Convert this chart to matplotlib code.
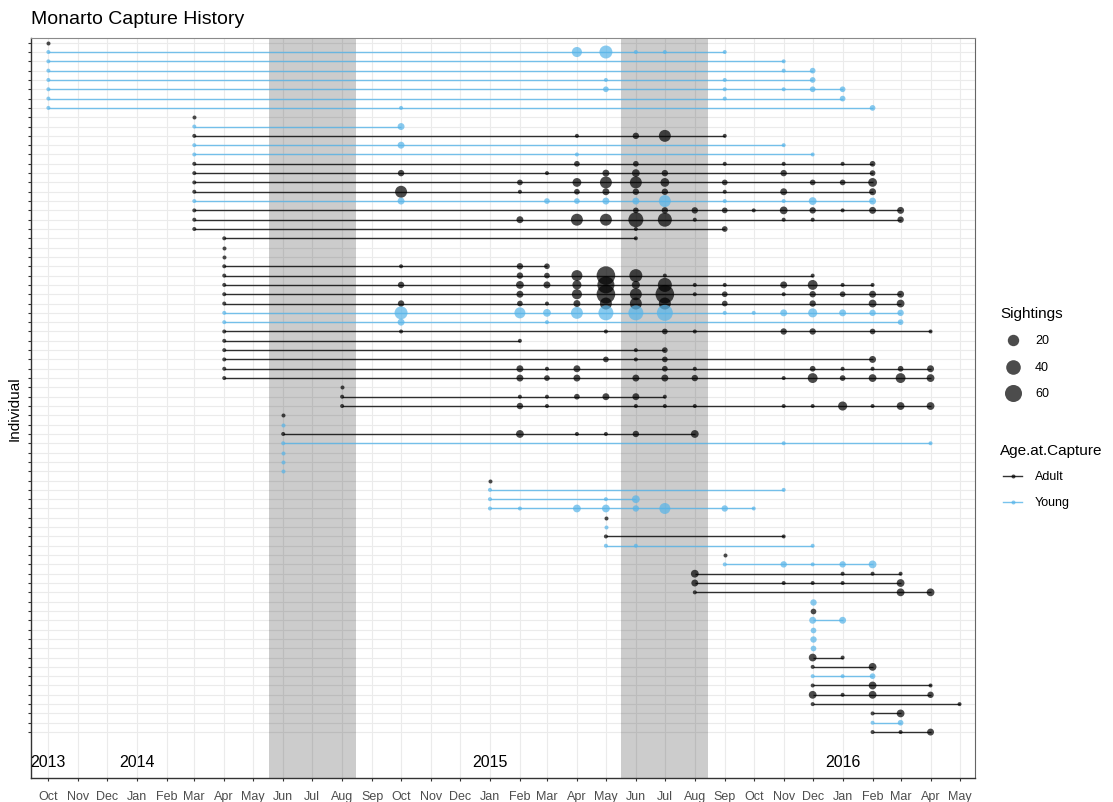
import datetime as dt
import numpy as np
import matplotlib
matplotlib.use("Agg")
import matplotlib.pyplot as plt

plt.rcParams['font.family'] = ['Liberation Sans', 'DejaVu Sans']

# ---- data: one entry per individual, top row first ----
age_at_capture = [
    "Adult", "Young", "Young", "Young", "Young",      # 1-5
    "Young", "Young", "Young", "Adult", "Young",      # 6-10
    "Adult", "Young", "Young", "Adult", "Adult",      # 11-15
    "Adult", "Adult", "Young", "Adult", "Adult",      # 16-20
    "Adult", "Adult", "Adult", "Adult", "Adult",      # 21-25
    "Adult", "Adult", "Adult", "Adult", "Young",      # 26-30
    "Young", "Adult", "Adult", "Adult", "Adult",      # 31-35
    "Adult", "Adult", "Adult", "Adult", "Adult",      # 36-40
    "Adult", "Young", "Adult", "Young", "Young",      # 41-45
    "Young", "Young", "Adult", "Young", "Young",      # 46-50
    "Young", "Adult", "Young", "Adult", "Young",      # 51-55
    "Adult", "Young", "Adult", "Adult", "Adult",      # 56-60
    "Young", "Adult", "Young", "Young", "Young",      # 61-65
    "Young", "Adult", "Adult", "Young", "Adult",      # 66-70
    "Adult", "Adult", "Adult", "Young", "Adult",      # 71-75
]

# month -> number of sightings
history = [
    {"2013-10": 1},
    {"2013-10": 1, "2015-04": 14, "2015-05": 29, "2015-06": 1, "2015-07": 1, "2015-09": 1},
    {"2013-10": 1, "2015-11": 1},
    {"2013-10": 1, "2015-11": 1, "2015-12": 2},
    {"2013-10": 1, "2015-05": 1, "2015-09": 1, "2015-12": 2},
    {"2013-10": 1, "2015-05": 2, "2015-09": 1, "2015-11": 1, "2015-12": 2, "2016-01": 2},
    {"2013-10": 1, "2015-09": 1, "2016-01": 2},
    {"2013-10": 1, "2014-10": 1, "2016-02": 2},
    {"2014-03": 1},
    {"2014-03": 1, "2014-10": 4},
    {"2014-03": 1, "2015-04": 1, "2015-06": 3, "2015-07": 23, "2015-09": 1},
    {"2014-03": 1, "2014-10": 4, "2015-11": 1},
    {"2014-03": 1, "2015-04": 1, "2015-12": 1},
    {"2014-03": 1, "2015-04": 2, "2015-06": 2, "2015-09": 1, "2015-11": 1, "2016-01": 1, "2016-02": 2},
    {"2014-03": 1, "2014-10": 3, "2015-03": 1, "2015-05": 4, "2015-06": 6, "2015-07": 3, "2015-11": 3, "2016-02": 2},
    {"2014-03": 1, "2015-02": 2, "2015-04": 9, "2015-05": 23, "2015-06": 23, "2015-07": 9, "2015-09": 2,
     "2015-12": 2, "2016-01": 2, "2016-02": 9},
    {"2014-03": 1, "2014-10": 23, "2015-02": 1, "2015-04": 2, "2015-05": 4, "2015-06": 3, "2015-07": 3,
     "2015-09": 1, "2015-11": 4, "2016-02": 4},
    {"2014-03": 1, "2014-10": 4, "2015-03": 2, "2015-04": 2, "2015-05": 4, "2015-06": 4, "2015-07": 23,
     "2015-09": 1, "2015-11": 1, "2015-12": 6, "2016-02": 4},
    {"2014-03": 1, "2015-06": 2, "2015-07": 3, "2015-08": 3, "2015-09": 2, "2015-10": 1, "2015-11": 6,
     "2015-12": 3, "2016-01": 1, "2016-02": 4, "2016-03": 4},
    {"2014-03": 1, "2015-02": 4, "2015-04": 23, "2015-05": 23, "2015-06": 43, "2015-07": 36, "2015-08": 1,
     "2015-11": 1, "2015-12": 1, "2016-03": 3},
    {"2014-03": 1, "2015-06": 1, "2015-09": 2},
    {"2014-04": 1, "2015-06": 1},
    {"2014-04": 1},
    {"2014-04": 1},
    {"2014-04": 1, "2014-10": 1, "2015-02": 3, "2015-03": 2},
    {"2014-04": 1, "2015-02": 3, "2015-03": 2, "2015-04": 18, "2015-05": 75, "2015-06": 29, "2015-07": 1,
     "2015-12": 1},
    {"2014-04": 1, "2014-10": 3, "2015-02": 6, "2015-03": 4, "2015-04": 10, "2015-05": 60, "2015-06": 7,
     "2015-07": 36, "2015-08": 1, "2015-09": 1, "2015-11": 4, "2015-12": 13, "2016-01": 1, "2016-02": 1},
    {"2014-04": 1, "2015-02": 4, "2015-04": 14, "2015-05": 75, "2015-06": 23, "2015-07": 75, "2015-08": 1,
     "2015-09": 2, "2015-11": 1, "2015-12": 3, "2016-01": 2, "2016-02": 4, "2016-03": 4},
    {"2014-04": 1, "2014-10": 3, "2015-02": 2, "2015-03": 1, "2015-04": 4, "2015-05": 23, "2015-06": 23,
     "2015-07": 23, "2015-09": 2, "2015-12": 3, "2016-02": 6, "2016-03": 6},
    {"2014-04": 1, "2014-10": 29, "2015-02": 18, "2015-03": 6, "2015-04": 23, "2015-05": 43, "2015-06": 43,
     "2015-07": 51, "2015-09": 1, "2015-10": 1, "2015-11": 4, "2015-12": 10, "2016-01": 4, "2016-02": 3,
     "2016-03": 3},
    {"2014-04": 1, "2014-10": 4, "2015-03": 1, "2016-03": 2},
    {"2014-04": 1, "2014-10": 1, "2015-05": 1, "2015-07": 2, "2015-08": 1, "2015-11": 3, "2015-12": 3,
     "2016-02": 2, "2016-04": 1},
    {"2014-04": 1, "2015-02": 1},
    {"2014-04": 1, "2015-06": 1, "2015-07": 2},
    {"2014-04": 1, "2015-05": 2, "2015-06": 1, "2015-07": 2, "2016-02": 4},
    {"2014-04": 1, "2015-02": 4, "2015-03": 1, "2015-04": 4, "2015-07": 2, "2015-08": 1, "2015-12": 2,
     "2016-01": 1, "2016-02": 1, "2016-03": 2, "2016-04": 4},
    {"2014-04": 1, "2015-02": 4, "2015-03": 2, "2015-04": 4, "2015-06": 4, "2015-07": 4, "2015-08": 3,
     "2015-11": 1, "2015-12": 13, "2016-01": 2, "2016-02": 6, "2016-03": 13, "2016-04": 6},
    {"2014-08": 1},
    {"2014-08": 1, "2015-02": 1, "2015-03": 1, "2015-04": 2, "2015-05": 4, "2015-06": 4, "2015-07": 1},
    {"2014-08": 1, "2015-02": 3, "2015-03": 1, "2015-06": 1, "2015-07": 1, "2015-08": 1, "2015-11": 1,
     "2015-12": 1, "2016-01": 10, "2016-02": 1, "2016-03": 6, "2016-04": 6},
    {"2014-06": 1},
    {"2014-06": 1},
    {"2014-06": 1, "2015-02": 6, "2015-04": 1, "2015-05": 1, "2015-06": 3, "2015-08": 6},
    {"2014-06": 1, "2015-11": 1, "2016-04": 1},
    {"2014-06": 1},
    {"2014-06": 1},
    {"2014-06": 1},
    {"2015-01": 1},
    {"2015-01": 1, "2015-11": 1},
    {"2015-01": 1, "2015-05": 1, "2015-06": 6},
    {"2015-01": 1, "2015-02": 1, "2015-04": 6, "2015-05": 6, "2015-06": 3, "2015-07": 18, "2015-09": 3,
     "2015-10": 1},
    {"2015-05": 1},
    {"2015-05": 1},
    {"2015-05": 1, "2015-11": 1},
    {"2015-05": 1, "2015-06": 1, "2015-12": 1},
    {"2015-09": 1},
    {"2015-09": 1, "2015-11": 3, "2015-12": 1, "2016-01": 3, "2016-02": 6},
    {"2015-08": 6, "2016-01": 1, "2016-02": 1, "2016-03": 1},
    {"2015-08": 4, "2015-11": 1, "2015-12": 1, "2016-01": 1, "2016-03": 6},
    {"2015-08": 1, "2016-03": 6, "2016-04": 6},
    {"2015-12": 3},
    {"2015-12": 2},
    {"2015-12": 4, "2016-01": 4},
    {"2015-12": 2},
    {"2015-12": 3},
    {"2015-12": 2},
    {"2015-12": 6, "2016-01": 1},
    {"2015-12": 1, "2016-02": 6},
    {"2015-12": 1, "2016-01": 1, "2016-02": 2},
    {"2015-12": 1, "2016-02": 6, "2016-04": 1},
    {"2015-12": 6, "2016-01": 1, "2016-02": 6, "2016-04": 3},
    {"2015-12": 1, "2016-05": 1},
    {"2016-02": 1, "2016-03": 6},
    {"2016-02": 1, "2016-03": 2},
    {"2016-02": 1, "2016-03": 1, "2016-04": 4},
]

month_labels = ["Oct", "Nov", "Dec", "Jan", "Feb", "Mar", "Apr", "May", "Jun", "Jul", "Aug",
                "Sep", "Oct", "Nov", "Dec", "Jan", "Feb", "Mar", "Apr", "May", "Jun", "Jul",
                "Aug", "Sep", "Oct", "Nov", "Dec", "Jan", "Feb", "Mar", "Apr", "May"]
year_labels = {"2013": "2013-10", "2014": "2014-01", "2015": "2015-01", "2016": "2016-01"}
winters = [("2014-05-17", "2014-08-15"), ("2015-05-17", "2015-08-15")]
legend_sizes = [20, 40, 60]
colours = {"Adult": "#000000", "Young": "#56B4E9"}


def to_date(s):
    parts = [int(p) for p in s.split("-")]
    return dt.date(parts[0], parts[1], parts[2] if len(parts) > 2 else 1)


def msize(s):
    d = 4 + 16 * np.sqrt((np.asarray(s, dtype=float) - 1) / 89)   # diameter in px
    return (d * 0.72) ** 2


# ---- figure ----
W, H = 1113, 803
fig = plt.figure(figsize=(W / 100, H / 100), dpi=100)
ax = fig.add_axes([31 / W, 1 - 779 / H, 944 / W, 740 / H])

for a, b in winters:
    ax.axvspan(to_date(a), to_date(b), color="black", alpha=0.2, lw=0, zorder=2)

for i, (age, h) in enumerate(zip(age_at_capture, history), start=1):
    dates = [to_date(m) for m in h]
    counts = list(h.values())
    c = colours[age]
    if len(dates) > 1:
        ax.plot([min(dates), max(dates)], [i, i], color=c, lw=1.0, alpha=0.8, zorder=3,
                solid_capstyle="butt")
    ax.scatter(dates, [i] * len(dates), s=msize(counts), color=c, alpha=0.7,
               linewidths=0, zorder=4)

for txt, m in year_labels.items():
    ax.text(to_date(m), 78.2, txt, ha="center", va="center", fontsize=11.5, color="black")

month_ticks = [to_date("%d-%02d" % (2013 + (9 + k) // 12, (9 + k) % 12 + 1)) for k in range(len(month_labels))]
ax.set_xticks(month_ticks)
ax.set_xticklabels(month_labels, fontsize=9, color="#4D4D4D")
ax.set_yticks(range(1, len(history) + 1))
ax.set_yticklabels([])
ax.tick_params(axis="both", length=2.5, width=0.8, color="#333333")
ax.tick_params(axis="x", pad=6)

ax.set_xlim(dt.date(2013, 10, 1) - dt.timedelta(days=18.6), dt.date(2016, 5, 1) + dt.timedelta(days=16.3))
ax.set_ylim(79.93, 0.4955)
ax.set_axisbelow(True)
ax.grid(True, color="#EBEBEB", lw=0.8)
for side in ["left", "bottom"]:
    ax.spines[side].set_color("#333333")
    ax.spines[side].set_linewidth(1.0)
ax.spines["top"].set_color("#8A8A8A")
ax.spines["right"].set_color("#666666")

fig.text(15 / W, 1 - 409 / H, "Individual", rotation=90, ha="center", va="center", fontsize=11)
fig.text(31 / W, 1 - 20 / H, "Monarto Capture History", ha="left", va="center", fontsize=14)

# ---- legends (drawn in pixel space) ----
lg = fig.add_axes([0, 0, 1, 1], facecolor="none")
lg.set_xlim(0, W)
lg.set_ylim(H, 0)
lg.axis("off")
lg.text(1000, 314, "Sightings", ha="left", va="center", fontsize=11)
for s, y in zip(legend_sizes, [341, 368, 394]):
    lg.scatter([1013], [y], s=msize(s), color="black", alpha=0.7, linewidths=0)
    lg.text(1035, y, str(s), ha="left", va="center", fontsize=9)
lg.text(1000, 451, "Age.at.Capture", ha="left", va="center", fontsize=11)
for age, y in zip(["Adult", "Young"], [477, 503]):
    lg.plot([1003, 1022], [y, y], color=colours[age], lw=1.0, alpha=0.8)
    lg.scatter([1012.5], [y], s=msize(1), color=colours[age], alpha=0.7, linewidths=0)
    lg.text(1035, y, age, ha="left", va="center", fontsize=9)

fig.savefig("out.png", dpi=100)
